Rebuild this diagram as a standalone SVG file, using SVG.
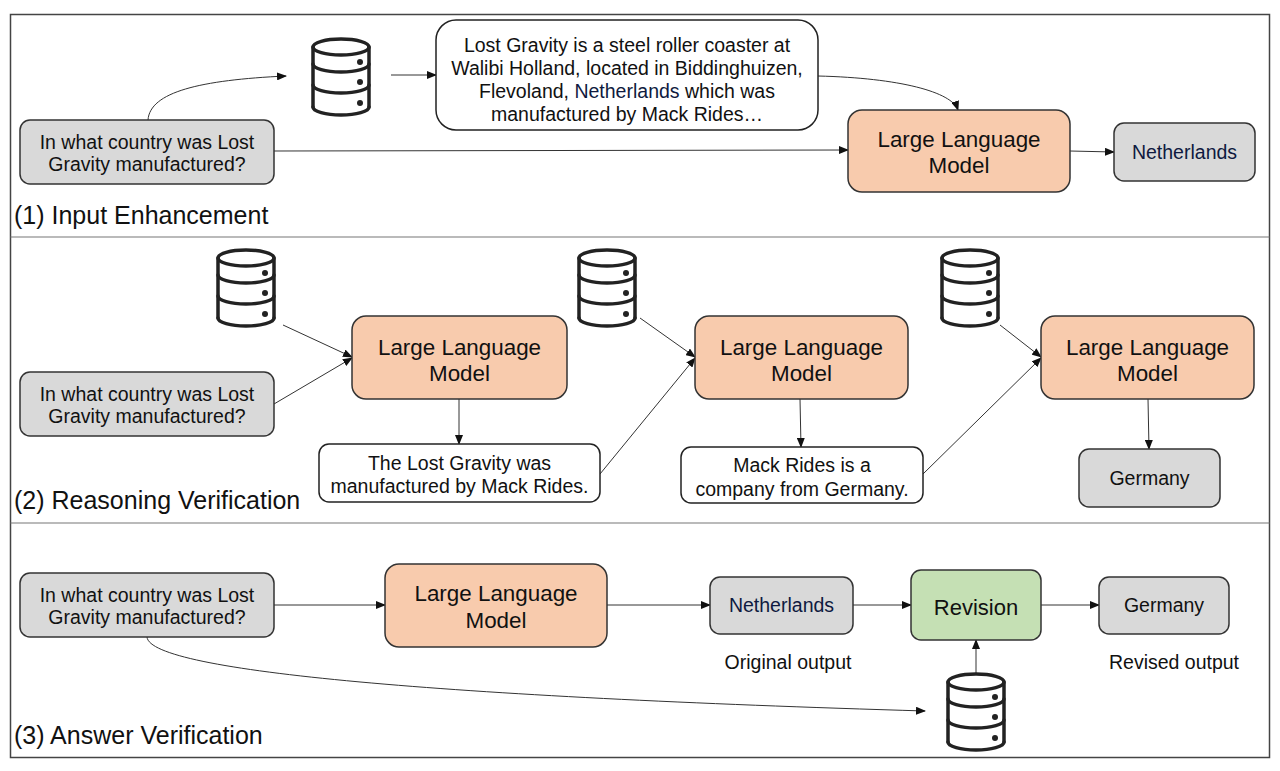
<svg xmlns="http://www.w3.org/2000/svg" width="1280" height="771" viewBox="0 0 1280 771">
<style>
text{font-family:"Liberation Sans",Arial,sans-serif;fill:#111;text-anchor:middle}
.q{fill:#d9d9d9;stroke:#333;stroke-width:1.5}
.w{fill:#fff;stroke:#222;stroke-width:1.5}
.llm{fill:#f8cbad;stroke:#333;stroke-width:1.5}
.rev{fill:#c5e0b4;stroke:#333;stroke-width:1.5}
.t17{font-size:19.5px}
.t18{font-size:19.5px}
.t21{font-size:22.4px}
.lab{font-size:25px;text-anchor:start}
.nl{fill:#0f1a40}
.c{fill:none;stroke:#333;stroke-width:1;marker-end:url(#ah)}
.div{stroke:#777;stroke-width:1.2}
</style>
<defs>
<marker id="ah" markerWidth="10" markerHeight="8" refX="9" refY="4" orient="auto" markerUnits="userSpaceOnUse">
<path d="M0,0 L10,4 L0,8 Z" fill="#111"/>
</marker>
<symbol id="db" viewBox="0 0 60 80" width="60" height="80" overflow="visible">
<g fill="none" stroke="#222" stroke-width="3.5" stroke-linecap="round">
<ellipse cx="30" cy="10" rx="28" ry="8"/>
<path d="M2,10 V70 M58,10 V70"/>
<path d="M2,27 A28,8 0 0 0 58,27"/>
<path d="M2,48 A28,8 0 0 0 58,48"/>
<path d="M2,70 A28,8 0 0 0 58,70"/>
</g>
<circle cx="49" cy="25" r="3" fill="#222"/>
<circle cx="49" cy="45" r="3" fill="#222"/>
<circle cx="49" cy="66" r="3" fill="#222"/>
</symbol>
</defs>
<rect width="1280" height="771" fill="#fff"/>
<g id="frame">
<rect x="10.5" y="14.5" width="1259" height="743" fill="none" stroke="#444" stroke-width="1.5"/>
<line class="div" x1="10.5" y1="237" x2="1269.5" y2="237"/>
<line class="div" x1="10.5" y1="523" x2="1269.5" y2="523"/>
<text class="lab" x="14" y="224">(1) Input Enhancement</text>
<text class="lab" x="14" y="509">(2) Reasoning Verification</text>
<text class="lab" x="14" y="744">(3) Answer Verification</text>
</g>
<g id="connectors">
<path class="c" d="M148,120 C150,92 200,80 286,76"/>
<path class="c" d="M391,75 L436,75"/>
<path class="c" d="M818,76 C900,78 952,92 958,110"/>
<path class="c" d="M274,151 L848,150"/>
<path class="c" d="M1070,151 L1114,152"/>
<path class="c" d="M283,325 L352,357"/>
<path class="c" d="M274,404 L352,358"/>
<path class="c" d="M459,399 L459,444"/>
<path class="c" d="M640,318 L695,357"/>
<path class="c" d="M600,474 L695,358"/>
<path class="c" d="M800,399 L801,447"/>
<path class="c" d="M1000,325 L1041,357"/>
<path class="c" d="M923,474 L1041,358"/>
<path class="c" d="M1148,399 L1149,449"/>
<path class="c" d="M274,605 L385,605"/>
<path class="c" d="M607,605 L710,605"/>
<path class="c" d="M853,605 L911,605"/>
<path class="c" d="M1041,605 L1099,605"/>
<path class="c" d="M976,673 L976,640"/>
<path class="c" d="M147,637 C150,672 450,697 925,711"/>
</g>
<g id="s1-question">
<rect class="q" x="20" y="120" width="254" height="64" rx="10"/>
<text class="t17" x="147" y="149">In what country was Lost</text>
<text class="t17" x="147" y="171">Gravity manufactured?</text>
</g>
<g id="s1-db"><use href="#db" x="311" y="37"/></g>
<g id="s1-doc">
<rect class="w" x="436" y="20" width="382" height="110" rx="20"/>
<text class="t17" x="627" y="52">Lost Gravity is a steel roller coaster at</text>
<text class="t17" x="627" y="75">Walibi Holland, located in Biddinghuizen,</text>
<text class="t17" x="627" y="98">Flevoland, <tspan class="nl">Netherlands</tspan> which was</text>
<text class="t17" x="627" y="121">manufactured by Mack Rides…</text>
</g>
<g id="s1-llm">
<rect class="llm" x="848" y="110" width="222" height="82" rx="14"/>
<text class="t21" x="959" y="147">Large Language</text>
<text class="t21" x="959" y="173">Model</text>
</g>
<g id="s1-answer">
<rect class="q" x="1114" y="123" width="141" height="58" rx="10"/>
<text class="t18 nl" x="1184.5" y="159">Netherlands</text>
</g>
<g id="s2-db1"><use href="#db" x="216" y="248"/></g>
<g id="s2-question">
<rect class="q" x="20" y="372" width="254" height="64" rx="10"/>
<text class="t17" x="147" y="401">In what country was Lost</text>
<text class="t17" x="147" y="423">Gravity manufactured?</text>
</g>
<g id="s2-llm1">
<rect class="llm" x="352" y="316" width="215" height="83" rx="14"/>
<text class="t21" x="459.5" y="355">Large Language</text>
<text class="t21" x="459.5" y="381">Model</text>
</g>
<g id="s2-step1">
<rect class="w" x="319" y="444" width="281" height="58" rx="10"/>
<text class="t17" x="459.5" y="470">The Lost Gravity was</text>
<text class="t17" x="459.5" y="493">manufactured by Mack Rides.</text>
</g>
<g id="s2-db2"><use href="#db" x="577" y="248"/></g>
<g id="s2-llm2">
<rect class="llm" x="695" y="316" width="213" height="83" rx="14"/>
<text class="t21" x="801.5" y="355">Large Language</text>
<text class="t21" x="801.5" y="381">Model</text>
</g>
<g id="s2-step2">
<rect class="w" x="681" y="447" width="242" height="56" rx="10"/>
<text class="t17" x="802" y="472">Mack Rides is a</text>
<text class="t17" x="802" y="496">company from Germany.</text>
</g>
<g id="s2-db3"><use href="#db" x="940" y="248"/></g>
<g id="s2-llm3">
<rect class="llm" x="1041" y="316" width="213" height="83" rx="14"/>
<text class="t21" x="1147.5" y="355">Large Language</text>
<text class="t21" x="1147.5" y="381">Model</text>
</g>
<g id="s2-answer">
<rect class="q" x="1079" y="449" width="141" height="58" rx="10"/>
<text class="t18" x="1149.5" y="485">Germany</text>
</g>
<g id="s3-question">
<rect class="q" x="20" y="573" width="254" height="64" rx="10"/>
<text class="t17" x="147" y="602">In what country was Lost</text>
<text class="t17" x="147" y="624">Gravity manufactured?</text>
</g>
<g id="s3-llm">
<rect class="llm" x="385" y="564" width="222" height="83" rx="14"/>
<text class="t21" x="496" y="601">Large Language</text>
<text class="t21" x="496" y="628">Model</text>
</g>
<g id="s3-original">
<rect class="q" x="710" y="577" width="143" height="57" rx="10"/>
<text class="t18 nl" x="781.5" y="612">Netherlands</text>
<text class="t17" x="788" y="669">Original output</text>
</g>
<g id="s3-revision">
<rect class="rev" x="911" y="570" width="130" height="70" rx="10"/>
<text class="t21" x="976" y="615" style="font-size:22px">Revision</text>
</g>
<g id="s3-revised">
<rect class="q" x="1099" y="577" width="130" height="57" rx="10"/>
<text class="t18" x="1164" y="612">Germany</text>
<text class="t17" x="1174" y="669">Revised output</text>
</g>
<g id="s3-db"><use href="#db" x="946" y="672"/></g>
</svg>
